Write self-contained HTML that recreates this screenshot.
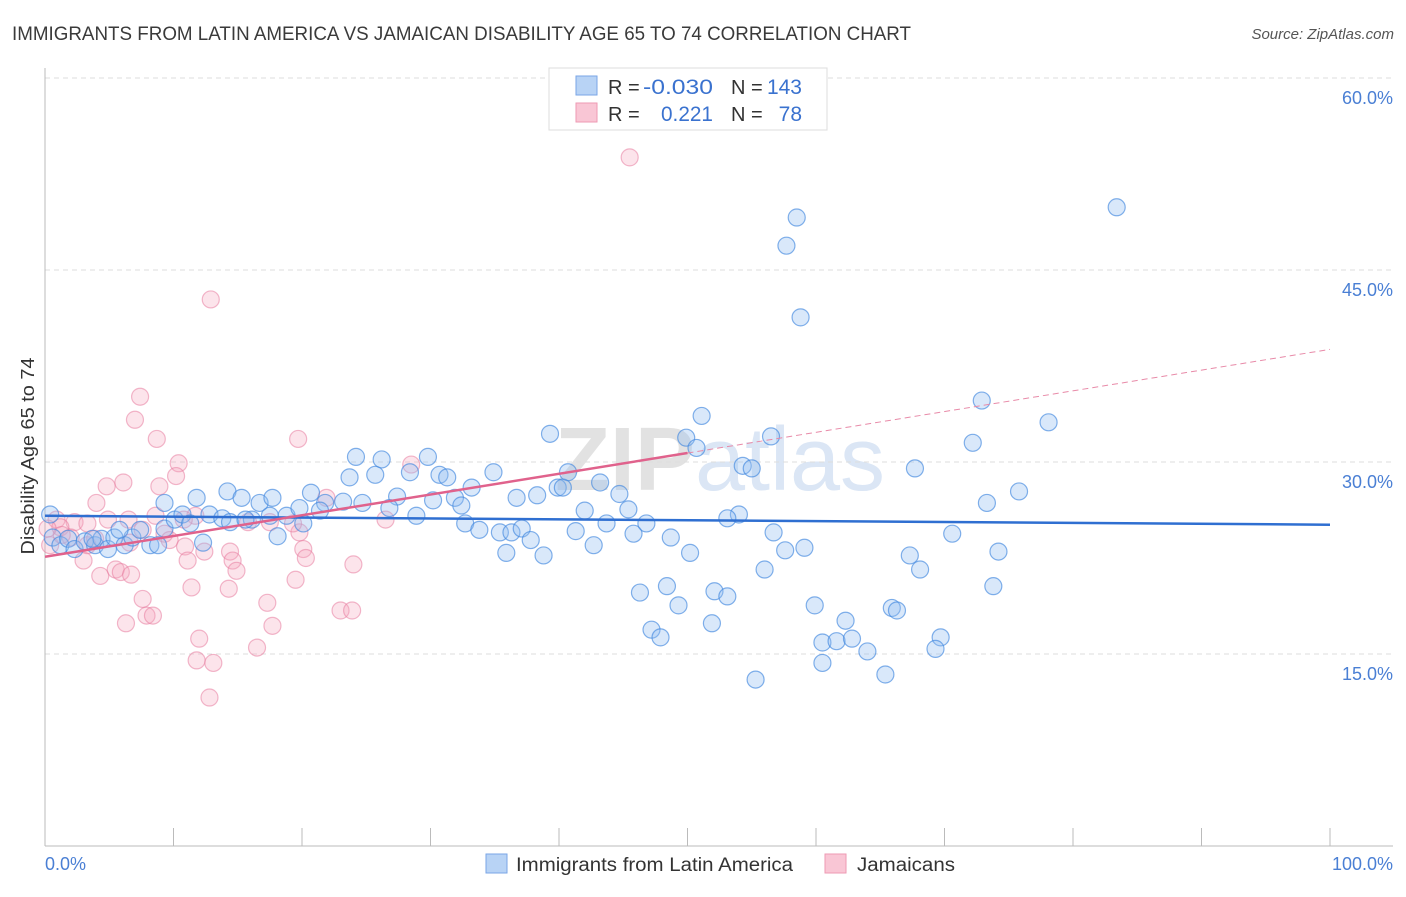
<!DOCTYPE html>
<html><head><meta charset="utf-8"><style>
body{margin:0;background:#fff;font-family:"Liberation Sans",sans-serif}
svg text{font-family:"Liberation Sans",sans-serif}
</style></head><body>
<svg id="chart" width="1406" height="892">
<text x="12" y="40" font-size="19" fill="#3a3a3a" textLength="899" lengthAdjust="spacingAndGlyphs">IMMIGRANTS FROM LATIN AMERICA VS JAMAICAN DISABILITY AGE 65 TO 74 CORRELATION CHART</text>
<text x="1394" y="39" font-size="15" fill="#555" font-style="italic" text-anchor="end">Source: ZipAtlas.com</text>
<text x="720" y="490" font-size="90" fill="#e6e6e6" text-anchor="middle" font-family="Liberation Serif"><tspan font-weight="bold" fill="#e2e2e2">ZIP</tspan><tspan fill="#dbe6f5" font-family="Liberation Sans">atlas</tspan></text>
<g id="grid"></g>
<g id="axes"></g>
<g id="pts"></g>
<g id="lines"></g>
<text transform="translate(34,456) rotate(-90)" font-size="18" fill="#333" text-anchor="middle" textLength="197" lengthAdjust="spacingAndGlyphs">Disability Age 65 to 74</text>
<text x="45" y="870" font-size="18" fill="#4a7fd4">0.0%</text>
<text x="1393" y="870" font-size="18" fill="#4a7fd4" text-anchor="end">100.0%</text>
<g>
<rect x="549" y="68" width="278" height="62" fill="#fff" stroke="#ddd"/>
<rect x="576" y="76" width="21" height="19" fill="#b8d3f5" stroke="#7aa6e6"/>
<rect x="576" y="103" width="21" height="19" fill="#f9c6d5" stroke="#ee9ab3"/>
<text x="608" y="94" font-size="20" fill="#333">R =</text>
<text x="713" y="94" font-size="21" fill="#3a72cf" text-anchor="end" textLength="70" lengthAdjust="spacingAndGlyphs">-0.030</text>
<text x="731" y="94" font-size="20" fill="#333">N =</text>
<text x="802" y="94" font-size="21" fill="#3a72cf" text-anchor="end">143</text>
<text x="608" y="121" font-size="20" fill="#333">R =</text>
<text x="713" y="121" font-size="21" fill="#3a72cf" text-anchor="end" textLength="52" lengthAdjust="spacingAndGlyphs">0.221</text>
<text x="731" y="121" font-size="20" fill="#333">N =</text>
<text x="802" y="121" font-size="21" fill="#3a72cf" text-anchor="end">78</text>
</g>
<g>
<rect x="486" y="854" width="21" height="19" fill="#b8d3f5" stroke="#7aa6e6"/>
<text x="516" y="871" font-size="19" fill="#333" textLength="277" lengthAdjust="spacingAndGlyphs">Immigrants from Latin America</text>
<rect x="825" y="854" width="21" height="19" fill="#f9c6d5" stroke="#ee9ab3"/>
<text x="857" y="871" font-size="19" fill="#333" textLength="98" lengthAdjust="spacingAndGlyphs">Jamaicans</text>
</g>
</svg>
<script>
const yTicks=[15,30,45,60];
const yTickLabels=["15.0%","30.0%","45.0%","60.0%"];
const xTicks=[10,20,30,40,50,60,70,80,90,100];
const blueX=[83.4,58.5,57.7,58.8,72.9,78.1,51.1,49.9,50.7,56.5,39.3,72.2,24.2,26.2,29.8,34.9,40.7,54.3,55.0,67.7,75.8,73.3,23.7,25.7,28.4,30.7,31.3,33.2,39.9,43.2,44.7,14.2,11.8,15.3,16.7,17.7,20.7,21.8,23.2,24.7,27.4,30.2,31.9,32.4,36.7,38.3,40.3,42.0,45.4,54.0,53.1,12.8,13.8,16.1,17.5,18.8,19.8,20.1,21.4,26.8,28.9,32.7,33.8,35.4,36.3,37.1,37.8,41.3,43.7,45.8,46.8,48.7,18.1,56.7,70.6,35.9,38.8,42.7,50.2,57.6,59.1,67.3,74.2,68.1,56.0,73.8,46.3,48.4,52.1,53.1,49.3,59.9,65.9,66.3,51.9,62.3,47.2,47.9,60.5,61.6,62.8,64.0,69.7,69.3,60.5,65.4,55.3,0.4,0.6,1.2,1.8,2.3,3.1,3.9,4.4,4.9,5.4,6.2,6.8,7.4,8.2,8.8,9.3,9.3,10.1,10.7,11.3,12.3,5.8,3.7,14.4,15.6];
const blueY=[49.9,49.1,46.9,41.3,34.8,33.1,33.6,31.9,31.1,32.0,32.2,31.5,30.4,30.2,30.4,29.2,29.2,29.7,29.5,29.5,27.7,26.8,28.8,29.0,29.2,29.0,28.8,28.0,28.0,28.4,27.5,27.7,27.2,27.2,26.8,27.2,27.6,26.8,26.9,26.8,27.3,27.0,27.2,26.6,27.2,27.4,28.0,26.2,26.3,25.9,25.6,25.9,25.6,25.5,25.8,25.8,26.4,25.2,26.2,26.4,25.8,25.2,24.7,24.5,24.5,24.8,23.9,24.6,25.2,24.4,25.2,24.1,24.2,24.5,24.4,22.9,22.7,23.5,22.9,23.1,23.3,22.7,23.0,21.6,21.6,20.3,19.8,20.3,19.9,19.5,18.8,18.8,18.6,18.4,17.4,17.6,16.9,16.3,15.9,16.0,16.2,15.2,16.3,15.4,14.3,13.4,13.0,25.9,24.1,23.5,24.0,23.2,23.8,23.5,24.0,23.2,24.1,23.5,24.1,24.7,23.5,23.5,24.8,26.8,25.5,25.9,25.2,23.7,24.7,24.0,25.3,25.5];
const pinkX=[45.5,12.9,7.4,7.0,8.7,19.7,10.4,10.2,28.5,6.1,4.8,8.9,4.0,11.7,4.9,6.5,8.6,10.8,0.9,2.3,3.3,26.5,17.5,15.8,21.9,19.8,19.3,9.3,9.7,7.6,10.9,12.4,14.4,14.6,20.1,20.3,3.0,4.3,5.5,5.9,6.7,11.1,14.9,24.0,19.5,11.4,14.3,7.6,17.3,23.0,23.9,7.9,8.4,6.3,17.7,12.0,16.5,11.8,13.1,12.8,1.2,0.4,2.0,3.3,1.3,0.2,3.9,6.6];
const pinkY=[53.8,42.7,35.1,33.3,31.8,31.8,29.9,28.9,29.8,28.4,28.1,28.1,26.8,25.8,25.5,25.5,25.8,25.5,25.5,25.3,25.2,25.5,25.3,25.3,27.2,24.5,25.2,24.4,23.9,24.7,23.4,23.0,23.0,22.3,23.2,22.5,22.3,21.1,21.6,21.4,21.2,22.3,21.5,22.0,20.8,20.2,20.1,19.3,19.0,18.4,18.4,18.0,18.0,17.4,17.2,16.2,15.5,14.5,14.3,11.6,24.9,23.5,24.1,23.5,24.3,24.8,24.0,23.7];
const blueFit=[25.8,-0.007];
const pinkFit=[22.6,0.162];
const pinkSolidEnd=50;

const NS="http://www.w3.org/2000/svg";
const X=v=>45+v*12.85, Y=v=>846-v*12.8;
function mk(t,a,p){const e=document.createElementNS(NS,t);for(const k in a)e.setAttribute(k,a[k]);p.appendChild(e);return e;}
const grid=document.getElementById('grid'),axes=document.getElementById('axes'),pts=document.getElementById('pts'),lines=document.getElementById('lines');
yTicks.forEach((t,i)=>{
 const g=mk('line',{x1:45,x2:1393,y1:Y(t),y2:Y(t),stroke:'#ddd','stroke-dasharray':'5,4'},grid);
 
 
 const tx=mk('text',{x:1393,y:Y(t)+26,'font-size':18,fill:'#4a7fd4','text-anchor':'end'},grid);
 tx.textContent=yTickLabels[i];
 
 
});
const ax=mk('line',{x1:45,x2:45,y1:68,y2:846,stroke:'#bbb'},axes);


const bx=mk('line',{x1:45,x2:1393,y1:846,y2:846,stroke:'#bbb'},axes);


xTicks.forEach(t=>{
 const k=mk('line',{x1:X(t),x2:X(t),y1:828,y2:846,stroke:'#bbb'},axes);
 
 
});
pinkX.forEach((x,i)=>{
 const c=mk('circle',{cx:X(x),cy:Y(pinkY[i]),r:8.5,fill:'rgba(244,165,190,0.3)',stroke:'rgba(232,125,160,0.55)','stroke-width':1.2},pts);
 
 
});
blueX.forEach((x,i)=>{
 const c=mk('circle',{cx:X(x),cy:Y(blueY[i]),r:8.5,fill:'rgba(145,188,240,0.35)',stroke:'rgba(65,135,222,0.65)','stroke-width':1.2},pts);
 
 
});
const bl=mk('line',{x1:X(0),y1:Y(blueFit[0]),x2:X(100),y2:Y(blueFit[0]+blueFit[1]*100),stroke:'#2f6fd1','stroke-width':2.5},lines);


const pl=mk('line',{x1:X(0),y1:Y(pinkFit[0]),x2:X(pinkSolidEnd),y2:Y(pinkFit[0]+pinkFit[1]*pinkSolidEnd),stroke:'#e0628c','stroke-width':2.5},lines);


const pd=mk('line',{x1:X(pinkSolidEnd),y1:Y(pinkFit[0]+pinkFit[1]*pinkSolidEnd),x2:X(100),y2:Y(pinkFit[0]+pinkFit[1]*100),stroke:'#e88aa8','stroke-width':1,'stroke-dasharray':'6,4'},lines);


</script>
</body></html>
